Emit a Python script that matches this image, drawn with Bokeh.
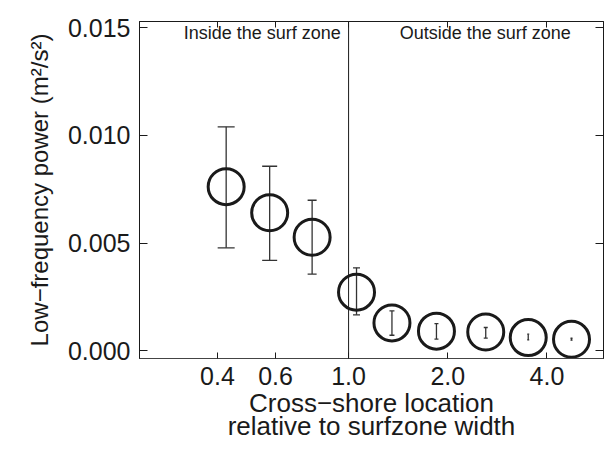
from bokeh.plotting import figure
from bokeh.models import Range1d, FixedTicker, LogAxis, LinearAxis, Span, Label, ColumnDataSource
from bokeh.embed import file_html
from bokeh.resources import INLINE

# ---- data ----
x_loc = [0.425, 0.576, 0.775, 1.057, 1.354, 1.848, 2.608, 3.51, 4.75]
power = [0.00762, 0.00641, 0.00527, 0.00272, 0.00129, 0.00091, 0.00087, 0.00061, 0.00053]
err_hi = [0.0104, 0.00857, 0.00699, 0.00385, 0.00185, 0.00126, 0.00108, 0.00077, 0.00058]
err_lo = [0.00478, 0.0042, 0.00356, 0.00167, 0.00072, 0.00054, 0.00059, 0.0005, 0.00049]
cap_px = [17, 15, 9, 7, 5, 4, 4, 2, 2]

x_ticks = [0.4, 0.6, 1.0, 2.0, 4.0]
x_tick_labels = ["0.4", "0.6", "1.0", "2.0", "4.0"]
y_ticks = [0.0, 0.005, 0.010, 0.015]
y_tick_labels = ["0.000", "0.005", "0.010", "0.015"]
zone_boundary = 1.0

FONT = "Liberation Sans"
INK = "#1a1a1a"

src = ColumnDataSource(dict(x=x_loc, y=power, hi=err_hi, lo=err_lo, cap=cap_px))

p = figure(width=604, height=443, x_axis_type="log",
           x_range=Range1d(0.2319, 5.94), y_range=Range1d(-0.000361, 0.015293),
           output_backend="svg", toolbar_location=None,
           min_border_left=139, min_border_right=1, min_border_top=21, min_border_bottom=82)
p.xgrid.visible = False
p.ygrid.visible = False
p.outline_line_color = INK
p.outline_line_width = 1

# bottom axis
xa = p.xaxis[0]
xa.ticker = FixedTicker(ticks=x_ticks)
xa.major_label_overrides = {t: l for t, l in zip(x_ticks, x_tick_labels)}
xa.minor_tick_line_color = None
xa.major_tick_in = 6
xa.major_tick_out = 0
xa.axis_line_color = "#444444"
xa.major_tick_line_color = INK
xa.major_label_text_font = FONT
xa.major_label_text_font_size = "25px"
xa.major_label_text_color = INK
xa.major_label_standoff = 8
xa.axis_label = "Cross\u2212shore location\nrelative to surfzone width"
xa.axis_label_text_font = FONT
xa.axis_label_text_font_size = "26px"
xa.axis_label_text_font_style = "normal"
xa.axis_label_text_color = INK
xa.axis_label_text_line_height = 0.78
xa.axis_label_standoff = 0

# left axis
ya = p.yaxis[0]
ya.ticker = FixedTicker(ticks=y_ticks)
ya.major_label_overrides = {t: l for t, l in zip(y_ticks, y_tick_labels)}
ya.minor_tick_line_color = None
ya.major_tick_in = 8
ya.major_tick_out = 0
ya.axis_line_color = INK
ya.major_tick_line_color = INK
ya.major_label_text_font = FONT
ya.major_label_text_font_size = "25px"
ya.major_label_text_color = INK
ya.major_label_standoff = 9
ya.axis_label = "Low\u2212frequency power (m\u00b2/s\u00b2)"
ya.axis_label_text_font = FONT
ya.axis_label_text_font_size = "24px"
ya.axis_label_text_font_style = "normal"
ya.axis_label_text_color = INK
ya.axis_label_standoff = 12

# top and right axes: ticks only
top = LogAxis(ticker=FixedTicker(ticks=x_ticks),
              major_label_overrides={t: "" for t in x_ticks},
              major_tick_in=6, major_tick_out=0, minor_tick_line_color=None,
              axis_line_color=INK, major_tick_line_color=INK,
              major_label_standoff=0, major_label_text_font_size="8px")
p.add_layout(top, "above")
right = LinearAxis(ticker=FixedTicker(ticks=y_ticks),
                   major_label_overrides={t: "" for t in y_ticks},
                   major_tick_in=8, major_tick_out=0, minor_tick_line_color=None,
                   axis_line_color=INK, major_tick_line_color=INK,
                   major_label_standoff=0, major_label_text_font_size="8px")
p.add_layout(right, "right")

# surf zone boundary
p.add_layout(Span(location=zone_boundary, dimension="height", line_color=INK, line_width=1))

# error bars
p.segment(x0="x", y0="lo", x1="x", y1="hi", source=src, line_color="#333333", line_width=1.3)
p.scatter(x="x", y="hi", source=src, marker="dash", size="cap", line_color="#333333", line_width=1.3)
p.scatter(x="x", y="lo", source=src, marker="dash", size="cap", line_color="#333333", line_width=1.3)

# circles
p.scatter(x="x", y="y", source=src, marker="circle", size=36, fill_color=None,
          line_color=INK, line_width=3)

p.add_layout(Label(x=0.547, y=0.01475, text="Inside the surf zone", text_align="center",
                   text_baseline="middle", text_font=FONT, text_font_size="18px", text_color=INK))
p.add_layout(Label(x=2.598, y=0.01475, text="Outside the surf zone", text_align="center",
                   text_baseline="middle", text_font=FONT, text_font_size="18px", text_color=INK))

open("out.html", "w").write(file_html(p, INLINE))
